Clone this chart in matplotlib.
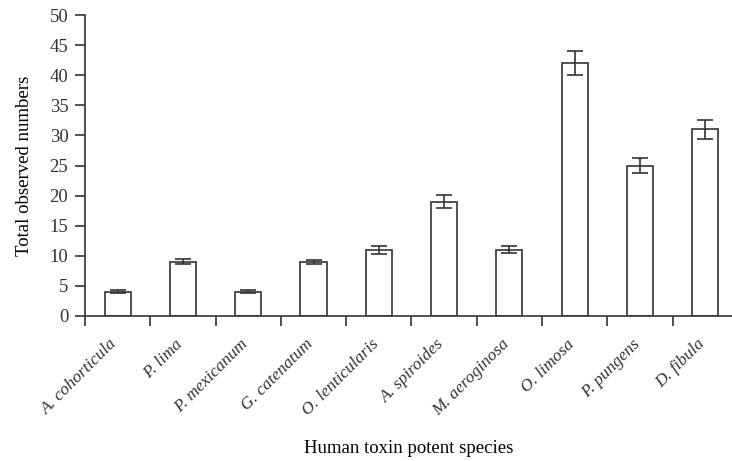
import matplotlib
matplotlib.use("Agg")
import matplotlib.pyplot as plt
import matplotlib.transforms as mtransforms
import numpy as np

species = ["A. cohorticula", "P. lima", "P. mexicanum", "G. catenatum",
           "O. lenticularis", "A. spiroides", "M. aeroginosa", "O. limosa",
           "P. pungens", "D. fibula"]
counts = [4, 9, 4, 9, 11, 19, 11, 42, 25, 31]
errors = [0.25, 0.4, 0.25, 0.3, 0.7, 1.1, 0.6, 2.0, 1.3, 1.6]

ink = "#333333"
plt.rcParams["font.family"] = ["Liberation Serif", "DejaVu Serif"]
plt.rcParams["text.color"] = ink
plt.rcParams["xtick.labelcolor"] = ink
plt.rcParams["ytick.labelcolor"] = ink

fig = plt.figure(figsize=(7.32, 4.61), dpi=100)
ax = fig.add_axes([85 / 732, 145 / 461, 647 / 732, 301 / 461])

x = np.arange(len(species))
ax.bar(x, counts, width=0.4, color="white", edgecolor=ink, linewidth=1.2,
       yerr=errors, capsize=5.5, error_kw=dict(ecolor=ink, elinewidth=1.2, capthick=1.2))

ax.set_xlim(-0.5, 9.41)
ax.set_ylim(0, 50)
ax.set_yticks(np.arange(0, 51, 5))

# ticks sit on the category boundaries, labels sit under the bars
ax.set_xticks(np.arange(-0.5, 9.0, 1.0))
ax.set_xticklabels([])
ax.set_xticks(x, minor=True)
ax.set_xticklabels(species, minor=True, rotation=45, ha="right", va="top",
                   fontstyle="italic", fontsize=12.5)
ax.tick_params(axis="x", which="minor", length=0, pad=14.5)
ax.tick_params(axis="x", which="major", length=7, width=1.2, color=ink)
ax.tick_params(axis="y", length=7, width=1.2, color=ink, labelsize=13.5, pad=5)

shift = mtransforms.ScaledTranslation(3 / 100, 0, fig.dpi_scale_trans)
for lbl in ax.get_xticklabels(minor=True):
    lbl.set_transform(lbl.get_transform() + shift)

for side in ("top", "right"):
    ax.spines[side].set_visible(False)
for side in ("left", "bottom"):
    ax.spines[side].set_linewidth(1.2)
    ax.spines[side].set_color(ink)

ax.set_ylabel("Total observed numbers", fontsize=13.5, labelpad=12)
ax.set_xlabel("Human toxin potent species", fontsize=13.5, labelpad=15)

fig.savefig("out.png", dpi=100)
